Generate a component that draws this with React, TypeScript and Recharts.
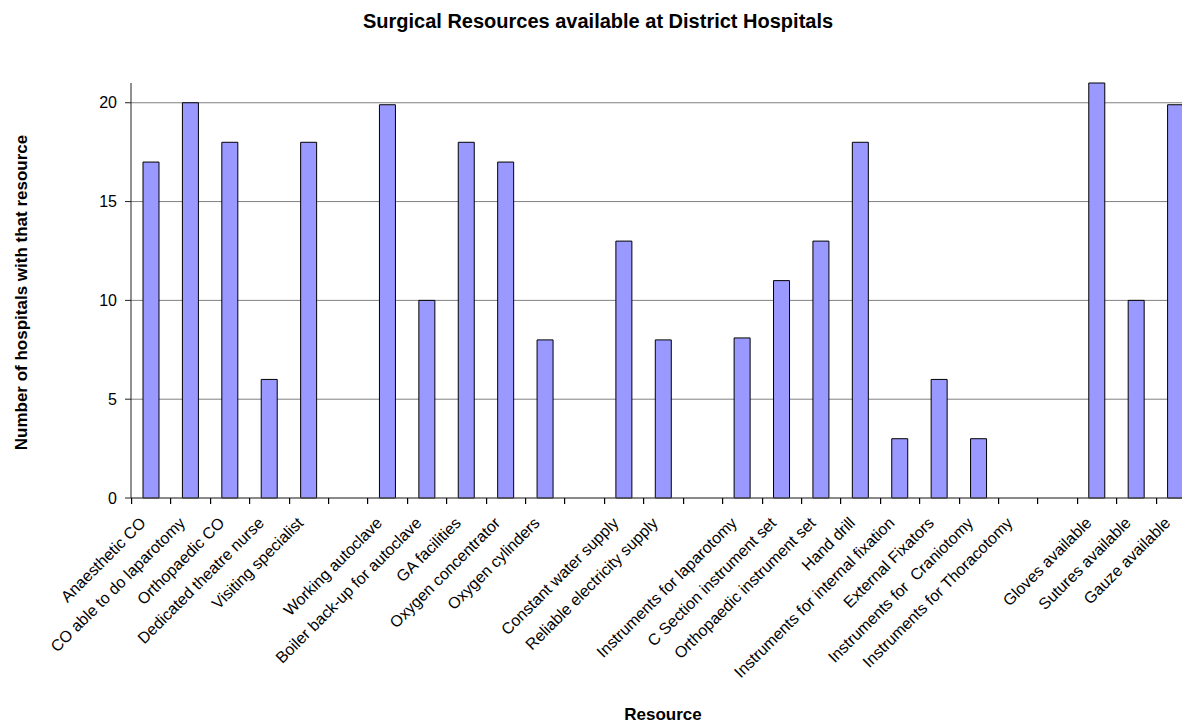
import React from 'react';
import { BarChart, Bar, XAxis, YAxis, CartesianGrid } from 'recharts';

const categories = [
  'Anaesthetic CO',
  'CO able to do laparotomy',
  'Orthopaedic CO',
  'Dedicated theatre nurse',
  'Visiting specialist',
  '',
  'Working autoclave',
  'Boiler back-up for autoclave',
  'GA facilities',
  'Oxygen concentrator',
  'Oxygen cylinders',
  '',
  'Constant water supply',
  'Reliable electricity supply',
  '',
  'Instruments for laparotomy',
  'C Section instrument set',
  'Orthopaedic instrument set',
  'Hand drill',
  'Instruments for internal fixation',
  'External Fixators',
  'Instruments for  Craniotomy',
  'Instruments for Thoracotomy',
  '',
  'Gloves available',
  'Sutures available',
  'Gauze available',
];

const hospitals = [
  17, 20, 18, 6, 18, null,
  19.9, 10, 18, 17, 8, null,
  13, 8, null,
  8.1, 11, 13, 18, 3, 6, 3, 0, null,
  21, 10, 19.9,
];

const yTicks = [0, 5, 10, 15, 20];

const FONT = '"Liberation Sans", Arial, Helvetica, sans-serif';
const CHART_W = 1200;
const MARGIN_RIGHT = 13;
const Y_AXIS_W = 123;
const HALF_BAND = (CHART_W - MARGIN_RIGHT - Y_AXIS_W) / categories.length / 2;

// Excel puts its tick marks on the category boundaries, so each tick draws
// the boundary on its left (and the last one also the one on its right)
function ResourceTick(props: any) {
  const cx = Number(props.x) || 0;
  const cy = Number(props.y) || 0;
  const value = props.payload?.value ?? '';
  const isLast = props.index === categories.length - 1;
  const left = Math.round(cx - HALF_BAND) + 0.5;
  const right = Math.round(cx + HALF_BAND) + 0.5;
  return (
    <g className="resource-tick">
      <rect x={left - 0.5} y={cy} width={1.2} height={6} fill="#000" />
      {isLast && <rect x={right - 0.5} y={cy} width={1.2} height={6} fill="#000" />}
      <g transform={`translate(${cx - 4},${cy + 26})`}>
        <text
          transform="rotate(-45)"
          textAnchor="end"
          fontSize={16}
          fontFamily={FONT}
          fill="#000"
          style={{ whiteSpace: 'pre' }}
        >
          {value}
        </text>
      </g>
    </g>
  );
}

function YTitle({ viewBox }: { viewBox?: { x: number; y: number; width: number; height: number } }) {
  const cy = (viewBox?.y ?? 0) + (viewBox?.height ?? 0) / 2 + 2;
  const x = 18.5;
  return (
    <text
      x={x}
      y={cy}
      transform={`rotate(-90, ${x}, ${cy})`}
      textAnchor="middle"
      fontSize={17}
      fontWeight="bold"
      fontFamily={FONT}
      fill="#000"
    >
      Number of hospitals with that resource
    </text>
  );
}

function XTitle({ viewBox }: { viewBox?: { x: number; y: number; width: number; height: number } }) {
  const cx = (viewBox?.x ?? 0) + (viewBox?.width ?? 0) / 2;
  return (
    <text x={cx} y={712} textAnchor="middle" fontSize={17} fontWeight="bold" fontFamily={FONT} fill="#000">
      Resource
    </text>
  );
}

export default function App() {
  const data = categories.map((name, i) => ({ name, hospitals: hospitals[i] }));

  return (
    <div style={{ position: 'absolute', left: 8, top: 8, width: 1174, height: 714, overflow: 'hidden', background: '#fff' }}>
      <svg width={1174} height={40} style={{ position: 'absolute', left: 0, top: 0 }}>
        <text x={590} y={20} textAnchor="middle" fontSize={20} fontWeight="bold" fontFamily={FONT} fill="#000">
          Surgical Resources available at District Hospitals
        </text>
      </svg>
      <BarChart
        width={CHART_W}
        height={714}
        data={data}
        margin={{ top: 75, right: MARGIN_RIGHT, bottom: 0, left: 0 }}
        barCategoryGap={0}
      >
        <CartesianGrid horizontal vertical={false} syncWithTicks stroke="#808080" />
        <XAxis
          dataKey="name"
          type="category"
          interval={0}
          height={224}
          tickSize={0}
          tickMargin={0}
          tickLine={false}
          axisLine={{ stroke: '#555' }}
          tick={ResourceTick}
          label={<XTitle />}
        />
        <YAxis
          type="number"
          domain={[0, 21]}
          ticks={yTicks}
          width={Y_AXIS_W}
          tickSize={6}
          tickMargin={8}
          axisLine={{ stroke: '#222' }}
          tickLine={{ stroke: '#222' }}
          tick={{ fontSize: 16, fill: '#000', fontFamily: FONT }}
          label={<YTitle />}
        />
        <Bar
          dataKey="hospitals"
          fill="#9999FF"
          stroke="#000"
          strokeWidth={1}
          barSize={16}
          isAnimationActive={false}
        />
      </BarChart>
    </div>
  );
}
